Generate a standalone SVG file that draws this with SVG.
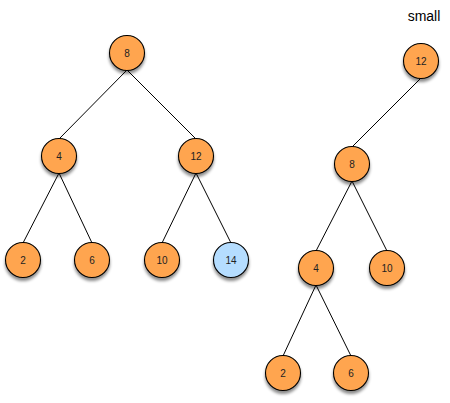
<svg xmlns="http://www.w3.org/2000/svg" width="450" height="403" viewBox="0 0 450 403">
<defs>
<filter id="sh" x="-50%" y="-50%" width="200%" height="200%">
<feDropShadow dx="0" dy="3" stdDeviation="1.8" flood-color="#000" flood-opacity="0.45"/>
</filter>
<style>
.n circle{stroke:#000;stroke-width:1.1;filter:url(#sh)}
.o circle{fill:#FFA54F}
.b circle{fill:#B5DDFF}
.n text{font-family:"Liberation Sans",Arial,sans-serif;font-size:10px;fill:#222;text-anchor:middle;dominant-baseline:central}
.e line{stroke:#000;stroke-width:1}
</style>
</defs>
<rect width="450" height="403" fill="#fff"/>
<g id="edges" class="e">
<line x1="127" y1="70" x2="59" y2="139"/>
<line x1="127" y1="70" x2="196" y2="139"/>
<line x1="59" y1="173" x2="23" y2="243"/>
<line x1="59" y1="173" x2="92" y2="243"/>
<line x1="196" y1="173" x2="162" y2="243"/>
<line x1="196" y1="173" x2="231" y2="243"/>
<line x1="421" y1="78" x2="352" y2="147"/>
<line x1="352" y1="181" x2="316" y2="251"/>
<line x1="352" y1="181" x2="387" y2="251"/>
<line x1="316" y1="285" x2="283" y2="356"/>
<line x1="316" y1="285" x2="351" y2="356"/>
</g>
<g id="n8" class="n o"><circle cx="127" cy="53" r="17.5"/><text x="127" y="53">8</text></g>
<g id="n4" class="n o"><circle cx="59" cy="156" r="17.5"/><text x="59" y="156">4</text></g>
<g id="n12" class="n o"><circle cx="196" cy="156" r="17.5"/><text x="196" y="156">12</text></g>
<g id="n2" class="n o"><circle cx="23" cy="260" r="17.5"/><text x="23" y="260">2</text></g>
<g id="n6" class="n o"><circle cx="92" cy="260" r="17.5"/><text x="92" y="260">6</text></g>
<g id="n10" class="n o"><circle cx="162" cy="260" r="17.5"/><text x="162" y="260">10</text></g>
<g id="n14" class="n b"><circle cx="231" cy="260" r="17.5"/><text x="231" y="260">14</text></g>
<g id="r12" class="n o"><circle cx="421" cy="61" r="17.5"/><text x="421" y="61">12</text></g>
<g id="r8" class="n o"><circle cx="352" cy="164" r="17.5"/><text x="352" y="164">8</text></g>
<g id="r4" class="n o"><circle cx="316" cy="268" r="17.5"/><text x="316" y="268">4</text></g>
<g id="r10" class="n o"><circle cx="387" cy="268" r="17.5"/><text x="387" y="268">10</text></g>
<g id="r2" class="n o"><circle cx="283" cy="373" r="17.5"/><text x="283" y="373">2</text></g>
<g id="r6" class="n o"><circle cx="351" cy="373" r="17.5"/><text x="351" y="373">6</text></g>
<text id="label" x="424" y="21" font-family="Liberation Sans,Arial,sans-serif" font-size="14" text-anchor="middle" fill="#000">small</text>
</svg>
